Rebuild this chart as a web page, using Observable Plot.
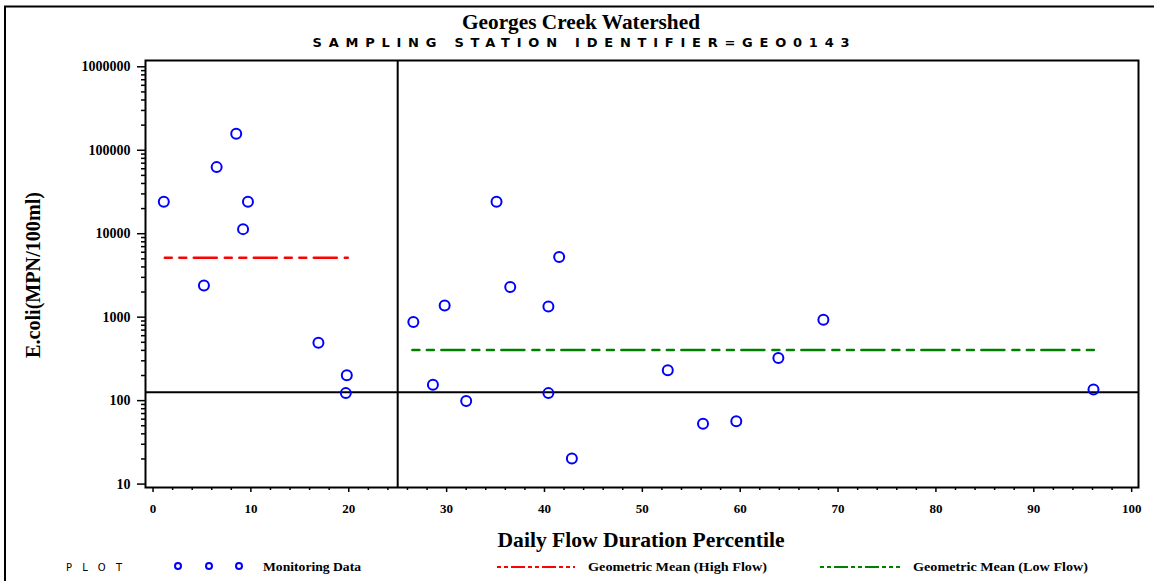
<!DOCTYPE html>
<html>
<head>
<meta charset="utf-8">
<script src="https://cdn.jsdelivr.net/npm/d3@7"></script>
<script src="https://cdn.jsdelivr.net/npm/@observablehq/plot@0.6"></script>
<style>
  html, body { margin: 0; padding: 0; background: white; }
</style>
</head>
<body>
<div id="chart"></div>
<script>
// ---- data ----
const flowPercentile = [1.1, 5.2, 6.5, 8.5, 9.2, 9.7, 16.9, 19.8, 19.7, 26.6, 28.6, 29.8, 32.0, 35.1, 36.5, 40.4, 40.4, 41.5, 42.8, 52.6, 56.2, 59.6, 63.9, 68.5, 96.1];
const ecoli = [24196, 2400, 62800, 157700, 11350, 24196, 495, 201, 123, 874, 155, 1384, 99, 24196, 2292, 1346, 123, 5245, 20.2, 231, 53, 56.5, 324, 933, 136];
const highFlowX = [1.2, 19.9];
const highFlowGeomean = 5160;
const lowFlowX = [26.5, 96.2];
const lowFlowGeomean = 404;
const standardValue = 126;
const flowSplit = 25;
const xTicks = [0, 10, 20, 30, 40, 50, 60, 70, 80, 90, 100];
const yTicks = [10, 100, 1000, 10000, 100000, 1000000];
const titleText = "Georges Creek Watershed";
const subtitleText = "SAMPLING STATION IDENTIFIER=GEO0143";
const xLabel = "Daily Flow Duration Percentile";
const yLabel = "E.coli(MPN/100ml)";
const legendLabels = ["Monitoring Data", "Geometric Mean (High Flow)", "Geometric Mean (Low Flow)"];

const points = flowPercentile.map((x, i) => ({x, y: ecoli[i]}));
const highLine = highFlowX.map(x => ({x, y: highFlowGeomean}));
const lowLine = lowFlowX.map(x => ({x, y: lowFlowGeomean}));
const xMinor = d3.range(0, 101, 2).filter(v => v % 10 !== 0);
const yMinor = [];
for (const d of [10, 100, 1000, 10000, 100000]) for (let k = 2; k <= 9; k++) yMinor.push(d * k);

const dashPattern = "7,7.5,7,7.5,23,8";

const svg = Plot.plot({
  width: 1154,
  height: 581,
  marginLeft: 145,
  marginRight: 16,
  marginTop: 60,
  marginBottom: 94,
  style: {background: "white", color: "black", fontFamily: "Liberation Serif", fontSize: "13px", fontWeight: "bold", overflow: "visible"},
  x: {domain: [-0.77, 100.7]},
  y: {type: "log", domain: [9.1, 1.19e6]},
  marks: [
    Plot.axisX(xTicks, {tickSize: 5, tickPadding: 11, strokeWidth: 1.5, label: null, tickFormat: d => String(d)}),
    Plot.axisX(xMinor, {tickSize: 3, strokeWidth: 1.5, label: null, tickFormat: () => ""}),
    Plot.axisY(yTicks, {tickSize: 8, tickPadding: 7, strokeWidth: 1.5, label: null, fontSize: 14, tickFormat: d => String(d)}),
    Plot.axisY(yMinor, {tickSize: 4, strokeWidth: 1.5, label: null, tickFormat: () => ""}),
    Plot.ruleX([flowSplit], {stroke: "black", strokeWidth: 2}),
    Plot.ruleY([standardValue], {stroke: "black", strokeWidth: 2}),
    Plot.line(highLine, {x: "x", y: "y", stroke: "#ff0000", strokeWidth: 2.5, strokeDasharray: dashPattern}),
    Plot.line(lowLine, {x: "x", y: "y", stroke: "#008000", strokeWidth: 2.5, strokeDasharray: dashPattern}),
    Plot.dot(points, {x: "x", y: "y", r: 5, stroke: "#0000ff", strokeWidth: 2, fill: "none"}),
    Plot.frame({stroke: "black", strokeWidth: 2})
  ]
});

document.getElementById("chart").appendChild(svg);
const s = d3.select(svg);

// outer border (top and left)
s.append("path").attr("d", "M5,581V6.5H1154").attr("fill", "none").attr("stroke", "black").attr("stroke-width", 2);

function addText(x, y, str, o = {}) {
  const t = s.append("text")
    .attr("x", x).attr("y", y)
    .attr("text-anchor", o.anchor || "start")
    .style("font-family", o.family || "Liberation Serif")
    .style("font-weight", o.weight || "bold")
    .style("font-size", (o.size || 13) + "px")
    .attr("fill", "black")
    .text(str);
  if (o.len) t.attr("textLength", o.len).attr("lengthAdjust", o.adjust || "spacingAndGlyphs");
  if (o.rotate) t.attr("transform", `rotate(${o.rotate},${x},${y})`);
  return t;
}

// titles
addText(581, 29, titleText, {anchor: "middle", size: 21, len: 238});
addText(581, 47, subtitleText, {anchor: "middle", size: 13, family: "DejaVu Sans", weight: "bold", len: 537, adjust: "spacing"});
// axis labels
addText(641, 547, xLabel, {anchor: "middle", size: 22, len: 287});
addText(40, 275, yLabel, {anchor: "middle", size: 20, len: 166, rotate: -90});

// legend
const ly = 567;
addText(94, ly + 4, "PLOT", {anchor: "middle", size: 10, family: "DejaVu Sans", weight: "normal", len: 56, adjust: "spacing"});
for (const cx of [178, 209, 239]) {
  s.append("circle").attr("cx", cx).attr("cy", ly - 1).attr("r", 3).attr("fill", "none").attr("stroke", "#0000ff").attr("stroke-width", 2);
}
addText(263, ly + 4, legendLabels[0], {size: 12, len: 98});
s.append("line").attr("x1", 497).attr("x2", 575).attr("y1", ly).attr("y2", ly).attr("stroke", "#ff0000").attr("stroke-width", 2).attr("stroke-dasharray", "4,3,4,3,14,3");
addText(588, ly + 4, legendLabels[1], {size: 12, len: 179});
s.append("line").attr("x1", 820).attr("x2", 900).attr("y1", ly).attr("y2", ly).attr("stroke", "#008000").attr("stroke-width", 2).attr("stroke-dasharray", "4,3,4,3,14,3");
addText(913, ly + 4, legendLabels[2], {size: 12, len: 175});
</script>
</body>
</html>
